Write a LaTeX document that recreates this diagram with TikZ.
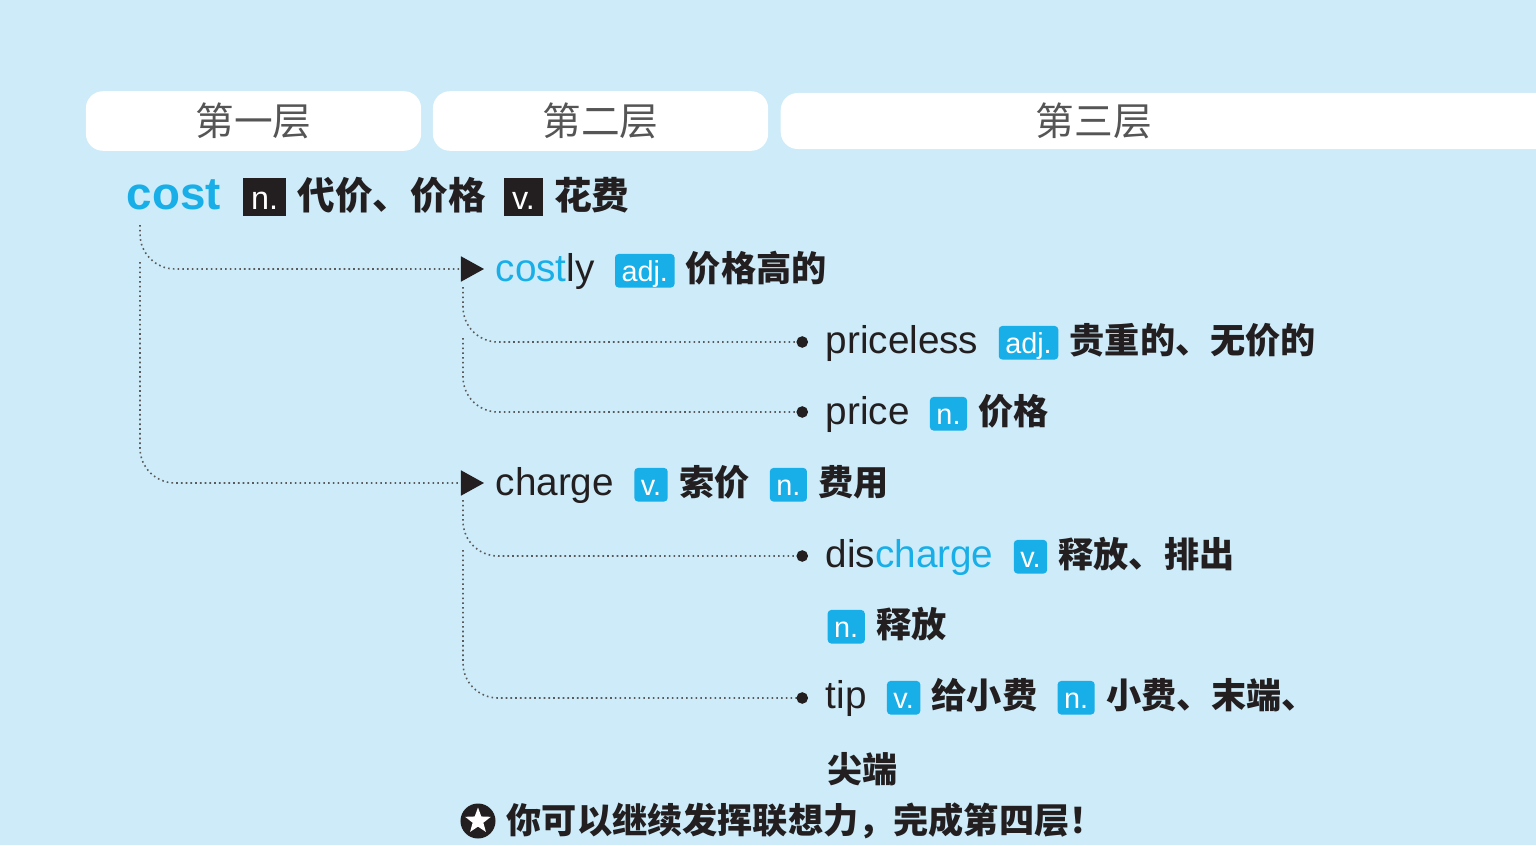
\documentclass[tikz,border=0pt]{standalone}
\usepackage{fontspec}
\setmainfont{Liberation Sans}
\newfontfamily\cjk{Noto Sans CJK SC}
\usetikzlibrary{positioning, arrows.meta, shapes.geometric}

\definecolor{skybg}{HTML}{CDEBF8}
\definecolor{accent}{HTML}{18AEE8}
\definecolor{ink}{HTML}{231F20}
\definecolor{headgray}{HTML}{555555}
\definecolor{linegray}{HTML}{5A5A5A}

\begin{document}
\begin{tikzpicture}[x=0.01cm, y=-0.01cm,
    node distance=0.19cm,
    tab/.style={fill=white, rounded corners=0.17cm, minimum height=0.56cm},
    tabtext/.style={font=\cjk\fontsize{11}{13}\selectfont, text=headgray},
    word/.style={anchor=base west, inner sep=0pt, font=\fontsize{11}{13}\selectfont, text=ink},
    mean/.style={inner sep=0pt, font=\cjk\bfseries\fontsize{10}{12}\selectfont, text=ink},
    tagbox/.style={fill=accent, text=white, rounded corners=1pt, inner xsep=0.065cm, inner ysep=0pt, text height=0.27cm, text depth=0.065cm, font=\fontsize{8.2}{10}\selectfont},
    darkbox/.style={fill=ink, text=white, inner xsep=0.08cm, inner ysep=0pt, text height=0.31cm, text depth=0.07cm, font=\fontsize{9.2}{11}\selectfont},
    link/.style={draw=linegray, line width=0.45pt, dash pattern=on 0.45pt off 0.9pt, rounded corners=0.35cm},
    branch/.style={link, -{Triangle[length=0.23cm, width=0.25cm, color=ink]}},
    leaf/.style={link, -{Circle[length=0.115cm, color=ink]}}
    ]

    \fill[skybg] (0,0) rectangle (1536,845);
    \useasboundingbox (0,0) rectangle (1536,845);

    % Header tabs
    \node (tab1) [tab, minimum width=3.35cm, tabtext] at (253.5,121) {第一层};
    \node (tab2) [tab, minimum width=3.35cm, tabtext] at (600.5,121) {第二层};
    \node (tab3) [tab, minimum width=8cm, anchor=west] at (780,121) {};
    \node (tab3t) [tabtext] at (1094,121) {第三层};

    % Layer 1
    \node (cost) [word, font=\bfseries\fontsize{13}{15}\selectfont, text=accent] at (126,209) {cost};
    \node (costN) [darkbox, base right=0.21cm of cost] {n.};
    \node (costNm) [mean, font=\cjk\bfseries\fontsize{10.7}{13}\selectfont, base right=0.1cm of costN] {代价、价格};
    \node (costV) [darkbox, base right=0.17cm of costNm] {v.};
    \node (costVm) [mean, font=\cjk\bfseries\fontsize{10.7}{13}\selectfont, base right=0.1cm of costV] {花费};

    % Layer 2
    \node (costly) [word] at (495,281) {\textcolor{accent}{cost}ly};
    \node (costlyT) [tagbox, base right=of costly] {adj.};
    \node (costlyM) [mean, base right=0.1cm of costlyT] {价格高的};

    \node (charge) [word] at (495,495) {charge};
    \node (chargeV) [tagbox, base right=of charge] {v.};
    \node (chargeVm) [mean, base right=0.1cm of chargeV] {索价};
    \node (chargeN) [tagbox, base right=of chargeVm] {n.};
    \node (chargeNm) [mean, base right=0.1cm of chargeN] {费用};

    % Layer 3
    \node (priceless) [word] at (825,353) {priceless};
    \node (pricelessT) [tagbox, base right=of priceless] {adj.};
    \node (pricelessM) [mean, base right=0.1cm of pricelessT] {贵重的、无价的};

    \node (price) [word] at (825,424) {price};
    \node (priceT) [tagbox, base right=of price] {n.};
    \node (priceM) [mean, base right=0.1cm of priceT] {价格};

    \node (discharge) [word] at (825,567) {dis\textcolor{accent}{charge}};
    \node (dischargeV) [tagbox, base right=of discharge] {v.};
    \node (dischargeVm) [mean, base right=0.1cm of dischargeV] {释放、排出};
    \node (dischargeN) [tagbox, anchor=base west] at (827,637) {n.};
    \node (dischargeNm) [mean, base right=0.1cm of dischargeN] {释放};

    \node (tip) [word] at (825,708) {tip};
    \node (tipV) [tagbox, base right=of tip] {v.};
    \node (tipVm) [mean, base right=0.1cm of tipV] {给小费};
    \node (tipN) [tagbox, base right=of tipVm] {n.};
    \node (tipNm) [mean, base right=0.1cm of tipN] {小费、末端、};
    \node (tipMore) [mean, anchor=base west] at (827,782) {尖端};

    % Trunk starts
    \coordinate (costTop) at ([xshift=0.14cm, yshift=-0.16cm]cost.base west);
    \coordinate (costLow) at ([xshift=0.14cm, yshift=-0.53cm]cost.base west);
    \coordinate (costlyTop) at ([xshift=-0.32cm, yshift=-0.06cm]costly.base west);
    \coordinate (costlyLow) at ([xshift=-0.32cm, yshift=-0.57cm]costly.base west);
    \coordinate (chargeTop) at ([xshift=-0.32cm, yshift=-0.05cm]charge.base west);
    \coordinate (chargeLow) at ([xshift=-0.32cm, yshift=-0.55cm]charge.base west);

    % Connectors
    \draw [branch] (costTop) |- ([xshift=-0.11cm, yshift=0.12cm]costly.base west);
    \draw [branch] (costLow) |- ([xshift=-0.11cm, yshift=0.12cm]charge.base west);
    \draw [leaf] (costlyTop) |- ([xshift=-0.17cm, yshift=0.11cm]priceless.base west);
    \draw [leaf] (costlyLow) |- ([xshift=-0.17cm, yshift=0.12cm]price.base west);
    \draw [leaf] (chargeTop) |- ([xshift=-0.17cm, yshift=0.11cm]discharge.base west);
    \draw [leaf] (chargeLow) |- ([xshift=-0.17cm, yshift=0.1cm]tip.base west);

    % Footer hint
    \node (badge) [circle, fill=ink, minimum size=0.35cm, inner sep=0pt] at (478,821) {};
    \node (badgeStar) [star, star points=5, star point ratio=2.4, fill=white, minimum size=0.27cm, inner sep=0pt] at (badge) {};
    \node (hint) [mean, font=\cjk\bfseries\fontsize{10}{12}\selectfont, anchor=base west] at (506,833) {你可以继续发挥联想力，完成第四层！};

\end{tikzpicture}
\end{document}
